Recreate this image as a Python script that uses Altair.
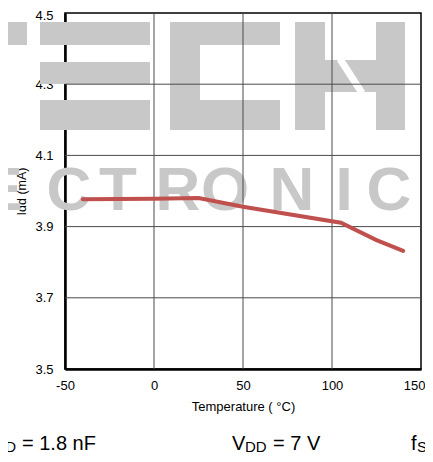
import altair as alt
import pandas as pd

# ---- data ----
temperature = [-40, 0, 25, 50, 105, 125, 140]
idd_ma = [3.977, 3.978, 3.980, 3.956, 3.911, 3.862, 3.832]
x_tick_values = [-50, 0, 50, 100, 150]
y_tick_values = [3.5, 3.7, 3.9, 4.1, 4.3, 4.5]
x_grid_values = [0, 50, 100]
y_grid_values = [3.7, 3.9, 4.1, 4.3]
x_title = "Temperature ( °C)"
y_title = "Idd (mA)"
watermark_letters = ["E", "C", "T", "R", "O", "N", "I", "C"]

# ---- styling / decoration ----
FONT = "Liberation Sans"
WM = "#c8c8c8"
W, H = 356, 356

line_df = pd.DataFrame({"t": temperature, "idd": idd_ma})
xgrid_df = pd.DataFrame({"t": x_grid_values})
ygrid_df = pd.DataFrame({"idd": y_grid_values})
one = pd.DataFrame({"k": [0]})

x_scale = alt.Scale(domain=[-50, 150], nice=False, zero=False)
y_scale = alt.Scale(domain=[3.5, 4.5], nice=False, zero=False)
x_axis = alt.Axis(values=x_tick_values, title=x_title, ticks=False, grid=False,
                  labelFlush=False, labelPadding=10, titlePadding=8,
                  labelAlign={"expr": "datum.value == 150 ? 'right' : 'center'"},
                  labelOffset={"expr": "datum.value == 150 ? 4 : 0"},
                  labelFontSize=13, titleFontSize=13,
                  labelExpr="replace(datum.label, '−', '-')")
y_axis = alt.Axis(values=y_tick_values, title=y_title, ticks=False, grid=False,
                  labelFlush=False, labelPadding=12, titlePadding=6,
                  labelOffset={"expr": "datum.value == 4.5 ? 2 : 0"},
                  labelFontSize=13, titleFontSize=12.5, format=".1f")


def xenc():
    return alt.X("t:Q", scale=x_scale, axis=x_axis)


def yenc():
    return alt.Y("idd:Q", scale=y_scale, axis=y_axis)


def block(x0, x1, y0, y1):
    return alt.Chart(one).mark_rect(color=WM, strokeWidth=0).encode(
        x=alt.value(x0), x2=alt.value(x1), y=alt.value(y0), y2=alt.value(y1))


def label(txt, x, y, size, align="left", color="black", weight="normal", font=FONT):
    return alt.Chart(one).mark_text(
        text=txt, align=align, baseline="alphabetic", fontSize=size,
        font=font, color=color, fontWeight=weight
    ).encode(x=alt.value(x), y=alt.value(y))


layers = []
# watermark "TECH" blocks (pixel geometry relative to plot area)
blocks = [
    (-65, -38, 9, 32),
    (-25, 85, 9, 32), (-25, 85, 49, 71), (-25, 85, 87, 117),
    (105, 135, 9, 117), (105, 215, 9, 32), (105, 215, 87, 117),
    (230, 260, 9, 117), (311, 340, 9, 117), (260, 311, 47, 79),
]
layers += [block(*b) for b in blocks]
layers.append(alt.Chart(one).mark_rule(color="white", strokeWidth=7).encode(
    x=alt.value(275), y=alt.value(46), x2=alt.value(297), y2=alt.value(80)))
# watermark "ELECTRONIC"
letter_x = [-63, 4, 53, 113, 160, 227, 279, 324]
for ch, lx in zip(watermark_letters, letter_x):
    layers.append(label(ch, lx, 197, 62, align="center", color=WM, weight="bold"))

# grid
layers.append(alt.Chart(xgrid_df).mark_rule(color="#4a4a4a", strokeWidth=1).encode(x=xenc()))
layers.append(alt.Chart(ygrid_df).mark_rule(color="#4a4a4a", strokeWidth=1).encode(y=yenc()))

# data line
layers.append(alt.Chart(line_df).mark_line(color="#c0504d", strokeWidth=4, strokeCap="round").encode(
    x=xenc(), y=yenc()))

# condition notes below the chart
layers += [
    label("C", -103, 437, 20, align="right"),
    label("LOAD", -49, 439, 15, align="right"),
    label("= 1.8 nF", -43, 437, 20),
    label("V", 167, 437, 20),
    label("DD", 180, 439, 15),
    label("= 7 V", 208, 437, 20),
    label("f", 346, 437, 20),
    label("SW", 352, 439, 15),
]

chart = alt.layer(*layers).properties(
    width=W, height=H,
    autosize=alt.AutoSizeParams(type="none"),
    padding={"left": 57, "top": 5, "right": 4, "bottom": 83},
).configure_view(stroke="black", strokeWidth=1.5).configure_axis(
    domainColor="black", domainWidth=2.5, labelColor="black", titleColor="black",
    labelFont=FONT, titleFont=FONT, titleFontWeight="normal"
)

chart.save("out.html", embed_options={"renderer": "svg", "actions": False})
